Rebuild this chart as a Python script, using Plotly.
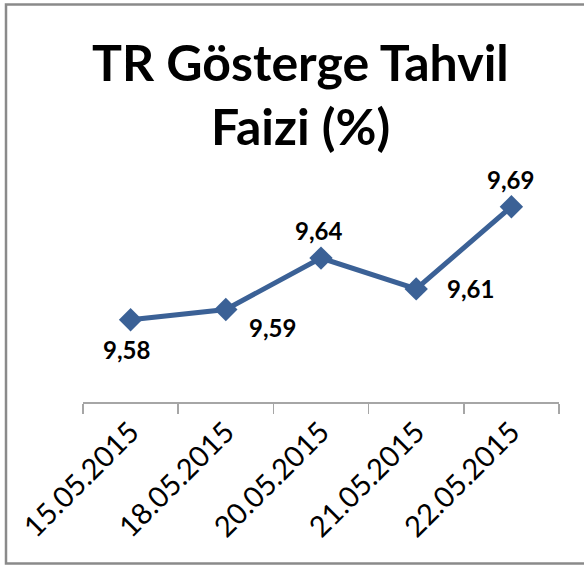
import plotly.graph_objects as go

dates = ["15.05.2015", "18.05.2015", "20.05.2015", "21.05.2015", "22.05.2015"]
values = [9.58, 9.59, 9.64, 9.61, 9.69]
labels = ["9,58", "9,59", "9,64", "9,61", "9,69"]
title_lines = ["TR Gösterge Tahvil", "Faizi (%)"]

# label offsets (pixels) per point
label_dx = [-4, 47, -3, 54, -1]
label_dy = [-30, -18, 28, 0, 27]

LINE = "#3B6196"
FONT = "Lato"
TITLE_X = (300 - 83) / 476

fig = go.Figure()
fig.add_trace(go.Scatter(
    x=dates, y=values, mode="lines+markers",
    line=dict(color=LINE, width=5),
    marker=dict(symbol="diamond", size=18, color=LINE),
    hoverinfo="skip",
))

annotations = []
for d, v, t, dx, dy in zip(dates, values, labels, label_dx, label_dy):
    annotations.append(dict(
        x=d, y=v, xref="x", yref="y", text="<b>%s</b>" % t, showarrow=False,
        xshift=dx, yshift=dy, font=dict(family=FONT, size=24, color="#000000"),
    ))

# title lines
annotations.append(dict(x=TITLE_X, y=(402 - 62) / 257, xref="paper", yref="paper",
                        xanchor="center", yanchor="middle", showarrow=False,
                        text="<b>%s</b>" % title_lines[0],
                        font=dict(family=FONT, size=50, color="#000000")))
annotations.append(dict(x=TITLE_X, y=(402 - 126) / 257, xref="paper", yref="paper",
                        xanchor="center", yanchor="middle", showarrow=False,
                        text="<b>%s</b>" % title_lines[1],
                        font=dict(family=FONT, size=50, color="#000000")))

fig.update_layout(
    width=584, height=565,
    margin=dict(l=83, r=25, t=145, b=163),
    paper_bgcolor="white", plot_bgcolor="white",
    showlegend=False,
    annotations=annotations,
    shapes=[dict(type="rect", xref="paper", yref="paper",
                 x0=(6 - 83) / 476, x1=(640 - 83) / 476,
                 y0=(402 - 563.5) / 257, y1=(402 - 4.5) / 257,
                 line=dict(color="#8a8a8a", width=2.5), layer="below")],
    xaxis=dict(
        type="category", range=[-0.5, 4.5], tickson="boundaries",
        showline=True, linecolor="#a6a6a6", linewidth=1.5,
        ticks="outside", ticklen=10, tickcolor="#a6a6a6", tickwidth=1.5,
        tickangle=-45, showgrid=False, zeroline=False,
        tickfont=dict(family=FONT, size=29, color="#000000"),
        fixedrange=True,
    ),
    yaxis=dict(range=[9.5, 9.75], visible=False, fixedrange=True),
)

fig.write_html(
    "out.html",
    config={"displayModeBar": False, "staticPlot": True},
    post_script="document.body.style.margin='0';document.body.style.overflow='hidden';",
)
